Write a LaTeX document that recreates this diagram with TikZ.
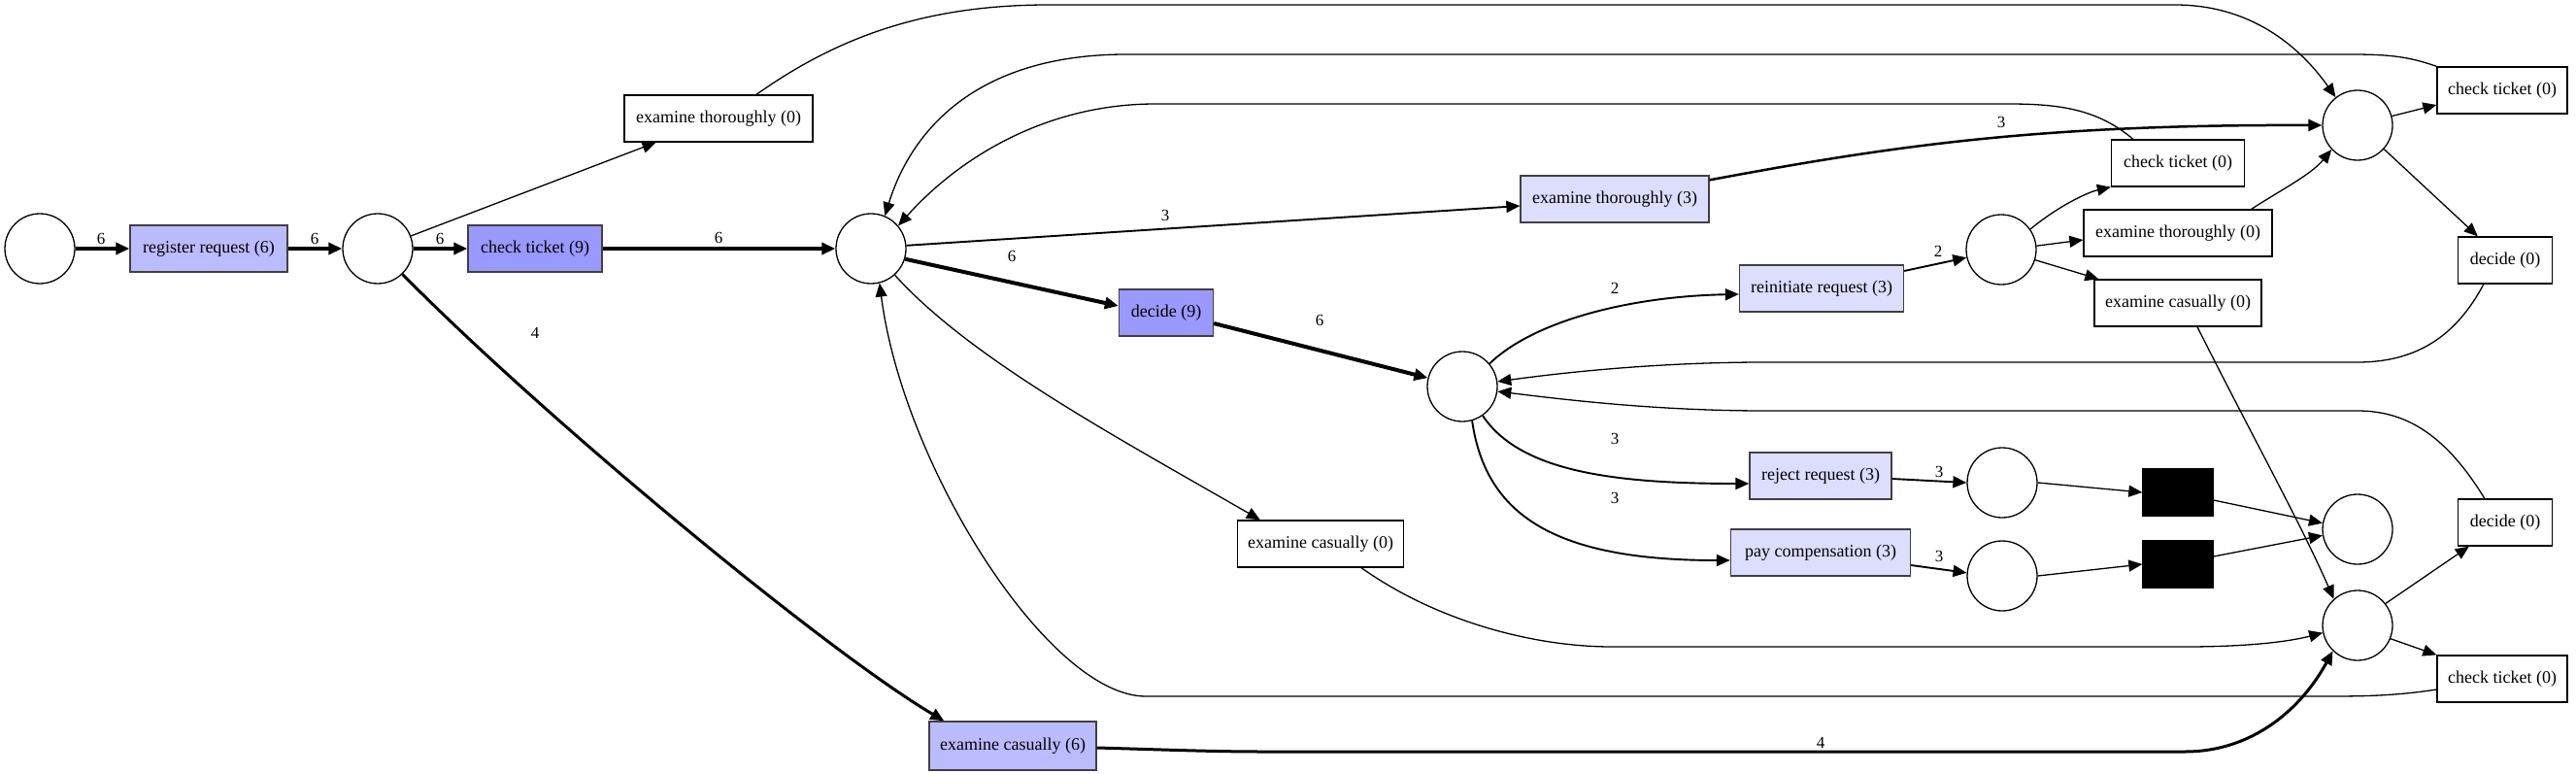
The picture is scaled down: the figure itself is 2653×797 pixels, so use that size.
\documentclass[tikz,border=0pt]{standalone}
\usepackage{fontspec}
\setmainfont{Liberation Serif}
\usetikzlibrary{arrows.meta,calc}
\definecolor{actA}{RGB}{187,187,255}
\definecolor{actB}{RGB}{153,153,255}
\definecolor{actC}{RGB}{221,221,255}
\definecolor{bord}{RGB}{64,64,64}
\begin{document}
\begin{tikzpicture}[x=1pt,y=-1pt,
  place/.style={circle,draw,line width=1.3pt,minimum size=72pt,inner sep=0pt},
  trans/.style={rectangle,draw,line width=1.3pt,minimum height=48pt,inner sep=0pt,font=\fontsize{18}{20}\selectfont},
  colA/.style={fill=actA,draw=bord},
  colB/.style={fill=actB,draw=bord},
  colC/.style={fill=actC,draw=bord},
  hid/.style={rectangle,draw,fill=black,minimum width=73pt,minimum height=49pt,inner sep=0pt},
  edg/.style={line width=1.3pt,-{Triangle[length=14pt,width=12pt]}},
  w2/.style={edg,line width=1.9pt},
  w3/.style={edg,line width=2.5pt},
  w4/.style={edg,line width=3pt},
  w6/.style={edg,line width=4pt},
  lbl/.style={font=\fontsize{17}{19}\selectfont,inner sep=0pt}
]
\useasboundingbox (0,0) rectangle (2653,797);
% nodes
\node[place] (p0) at (41,256) {};
\node[trans,colA,minimum width=162pt] (reg) at (215,256) {register request (6)};
\node[place] (p1) at (389,256) {};
\node[trans,colB,minimum width=138pt] (ct9) at (551,256) {check ticket (9)};
\node[trans,minimum width=194pt] (et0a) at (740,122) {examine thoroughly (0)};
\node[place] (p2) at (897,256) {};
\node[trans,colC,minimum width=194pt] (et3) at (1663,205) {examine thoroughly (3)};
\node[trans,colB,minimum width=97pt] (d9) at (1201,322) {decide (9)};
\node[trans,minimum width=171pt] (ec0a) at (1360,560) {examine casually (0)};
\node[trans,colA,minimum width=172pt,minimum height=50pt] (ec6) at (1043,768) {examine casually (6)};
\node[place] (p3) at (1506,398) {};
\node[trans,colC,minimum width=169pt] (rr) at (1876,297) {reinitiate request (3)};
\node[trans,colC,minimum width=146pt] (rej) at (1875,490) {reject request (3)};
\node[trans,colC,minimum width=185pt] (pay) at (1875,569) {pay compensation (3)};
\node[place] (p5) at (2061,257) {};
\node[place] (p6a) at (2062,497) {};
\node[place] (p6b) at (2062,593) {};
\node[trans,minimum width=137pt] (ct0b) at (2243,168) {check ticket (0)};
\node[trans,minimum width=194pt] (et0b) at (2243,240) {examine thoroughly (0)};
\node[trans,minimum width=172pt] (ec0b) at (2243,312) {examine casually (0)};
\node[hid] (ha) at (2243,507) {};
\node[hid] (hb) at (2243,581) {};
\node[place] (p4) at (2428,129) {};
\node[place] (pend) at (2428,545) {};
\node[place] (p7) at (2428,644) {};
\node[trans,minimum width=134pt] (ct0a) at (2577,93) {check ticket (0)};
\node[trans,minimum width=97pt] (d0a) at (2580,268) {decide (0)};
\node[trans,minimum width=97pt] (d0b) at (2580,538) {decide (0)};
\node[trans,minimum width=134pt] (ct0c) at (2577,699) {check ticket (0)};
% edges
\draw[w6] (p0) -- (reg);
\draw[w6] (reg) -- (p1);
\draw[w6] (p1) -- (ct9);
\draw[edg] (p1) -- (et0a);
\draw[w4] (p1.314) .. controls (560,430) and (850,670) .. ($(ec6.north west)+(16,0)$);
\draw[w6] (ct9) -- (p2);
\draw[edg] ($(et0a.north)+(39,0)$) .. controls (860,40) and (950,5) .. (1080,5) -- (2240,5) .. controls (2320,5) and (2370,50) .. (p4.128);
\draw[w2] (p2.5) -- ($(et3.west)+(0,7)$);
\draw[w3] ($(et3.north east)+(0,5)$) .. controls (1950,150) and (2100,128) .. (p4.west);
\draw[w6] (p2.343) -- ($(d9.west)+(0,-7)$);
\draw[w6] ($(d9.east)+(0,11)$) -- (p3.166);
\draw[edg] (p2.312) .. controls (1000,370) and (1150,450) .. ($(ec0a.north west)+(24,0)$);
\draw[edg] ($(ec0a.south)+(42,0)$) .. controls (1480,640) and (1580,666) .. (1660,666) -- (2250,666) .. controls (2320,666) and (2360,660) .. (p7.192);
\draw[w4] ($(ec6.east)+(0,2)$) .. controls (1200,772) and (1250,774) .. (1300,774) -- (2250,774) .. controls (2320,774) and (2370,730) .. (p7.226);
\draw[edg] (ct0a.north west) .. controls (2480,58) and (2460,56) .. (2420,56) -- (1160,56) .. controls (1010,56) and (940,130) .. (p2.67);
\draw[edg] ($(ct0b.north west)+(23,0)$) .. controls (2160,112) and (2120,107) .. (2068,107) -- (1190,107) .. controls (1080,107) and (990,160) .. (p2.40);
\draw[edg] (p4.15) -- ($(ct0a.west)+(0,15)$);
\draw[edg] (p4.-42) -- ($(d0a.north west)+(21,0)$);
\draw[edg] ($(d0a.south west)+(27,0)$) .. controls (2530,345) and (2490,373) .. (2428,373) -- (1817,373) .. controls (1700,373) and (1600,385) .. (p3.8);
\draw[w2] (p3.40) .. controls (1580,330) and (1680,305) .. ($(rr.west)+(0,6)$);
\draw[w2] (p3.305) .. controls (1565,485) and (1660,498) .. ($(rej.west)+(0,8)$);
\draw[w2] (p3.286) .. controls (1530,530) and (1600,577) .. ($(pay.west)+(0,8)$);
\draw[w2] ($(rr.east)+(0,-18)$) -- (p5.193);
\draw[edg] (p5.35) .. controls (2120,212) and (2150,198) .. (ct0b.south west);
\draw[edg] (p5.6) -- ($(et0b.west)+(0,7)$);
\draw[edg] (p5.-17) -- ($(ec0b.north west)+(5,0)$);
\draw[edg] ($(et0b.north east)+(-22,0)$) .. controls (2350,195) and (2380,180) .. (p4.223);
\draw[edg] ($(ec0b.south)+(20,0)$) .. controls (2320,450) and (2370,540) .. (p7.132);
\draw[w2] ($(rej.east)+(0,3)$) -- (p6a.west);
\draw[w2] ($(pay.east)+(0,13)$) -- (p6b.175);
\draw[edg] (p6a.east) -- (ha.west);
\draw[edg] (p6b.east) -- (hb.west);
\draw[edg] ($(ha.east)+(0,8)$) -- (pend.170);
\draw[edg] ($(hb.east)+(0,-8)$) -- (pend.190);
\draw[edg] (p7.38) -- ($(d0b.south west)+(12,0)$);
\draw[edg] (p7.-22) -- (ct0c.north west);
\draw[edg] ($(d0b.north west)+(28,0)$) .. controls (2520,450) and (2480,423) .. (2428,423) -- (1817,423) .. controls (1700,423) and (1600,410) .. (p3.352);
\draw[edg] ($(ct0c.west)+(0,11)$) .. controls (2470,716) and (2440,717) .. (2400,717) -- (1180,717) .. controls (1080,717) and (930,480) .. (p2.284);
% labels
\node[lbl] (l1) at (104,246) {6};
\node[lbl] (l2) at (324,246) {6};
\node[lbl] (l3) at (453,246) {6};
\node[lbl] (l4) at (551,343) {4};
\node[lbl] (l5) at (740,245) {6};
\node[lbl] (l6) at (1200,222) {3};
\node[lbl] (l7) at (1042,264) {6};
\node[lbl] (l8) at (1359,330) {6};
\node[lbl] (l9) at (2061,126) {3};
\node[lbl] (l10) at (1663,297) {2};
\node[lbl] (l11) at (1996,259) {2};
\node[lbl] (l12) at (1663,452) {3};
\node[lbl] (l13) at (1663,513) {3};
\node[lbl] (l14) at (1997,486) {3};
\node[lbl] (l15) at (1997,573) {3};
\node[lbl] (l16) at (1875,765) {4};
\end{tikzpicture}
\end{document}
